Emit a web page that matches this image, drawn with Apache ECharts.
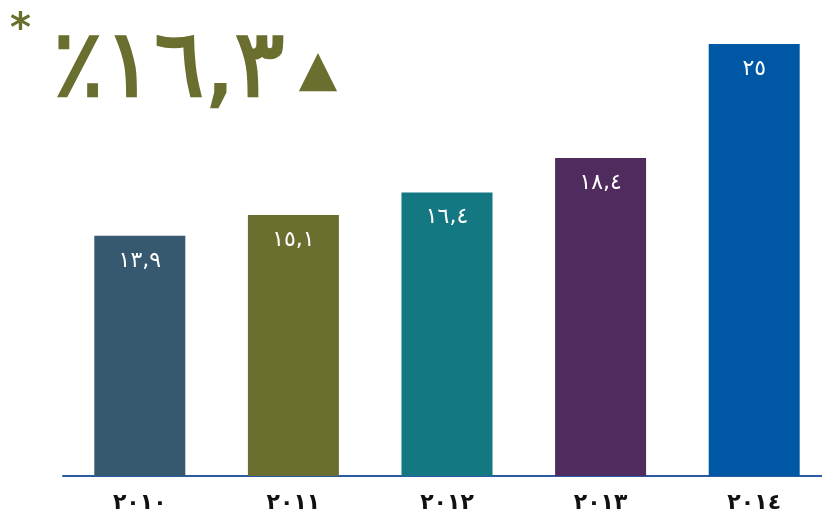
<!DOCTYPE html>
<html>
<head>
<meta charset="utf-8">
<script src="https://cdn.jsdelivr.net/npm/echarts@6/dist/echarts.min.js"></script>
<style>html,body{margin:0;padding:0;background:#fff;overflow:hidden}#c{width:831px;height:519px}</style>
</head>
<body>
<div id="c"></div>
<script>
const categories = ['٢٠١٠', '٢٠١١', '٢٠١٢', '٢٠١٣', '٢٠١٤'];
const values = [13.9, 15.1, 16.4, 18.4, 25];
const valueLabels = ['١٣,٩', '١٥,١', '١٦,٤', '١٨,٤', '٢٥'];
const barColors = ['#36596f', '#6a6e2e', '#137881', '#502b5d', '#0058a4'];
const headline = '٪١٦,٣';

const chart = echarts.init(document.getElementById('c'), null, {renderer: 'canvas'});
chart.setOption({
  animation: false,
  backgroundColor: '#ffffff',
  title: [{
    left: 5, top: 6,
    text: '*',
    textStyle: {fontSize: 40, fontWeight: 'bold', color: '#6a6e2e', fontFamily: 'DejaVu Sans'}
  }, {
    left: 48, top: 20,
    text: '{m|' + headline + '}{t|▲}',
    textStyle: {
      rich: {
        m: {fontSize: 94, fontWeight: 'normal', color: '#6a6e2e', fontFamily: 'DejaVu Sans',
            textBorderColor: '#6a6e2e', textBorderWidth: 2.5, padding: [0, 14, 0, 0]},
        t: {fontSize: 50, color: '#6a6e2e', fontFamily: 'DejaVu Sans'}
      }
    }
  }],
  grid: {left: 63, right: 0, top: 44, bottom: 43},
  xAxis: {
    type: 'category',
    data: categories,
    axisLine: {lineStyle: {color: '#2a5aa0', width: 2}},
    axisTick: {show: false},
    axisLabel: {color: '#111', fontSize: 22, fontWeight: 'bold', margin: 16, fontFamily: 'DejaVu Sans'}
  },
  yAxis: {type: 'value', min: 0, max: 25, show: false, splitLine: {show: false}},
  series: [{
    type: 'bar',
    barWidth: 91,
    data: values.map((v, i) => ({value: v, itemStyle: {color: barColors[i]}})),
    label: {
      show: true,
      position: 'insideTop',
      distance: 14,
      color: '#ffffff',
      fontSize: 22,
      fontFamily: 'DejaVu Sans',
      formatter: p => valueLabels[p.dataIndex]
    }
  }]
});
</script>
</body>
</html>
